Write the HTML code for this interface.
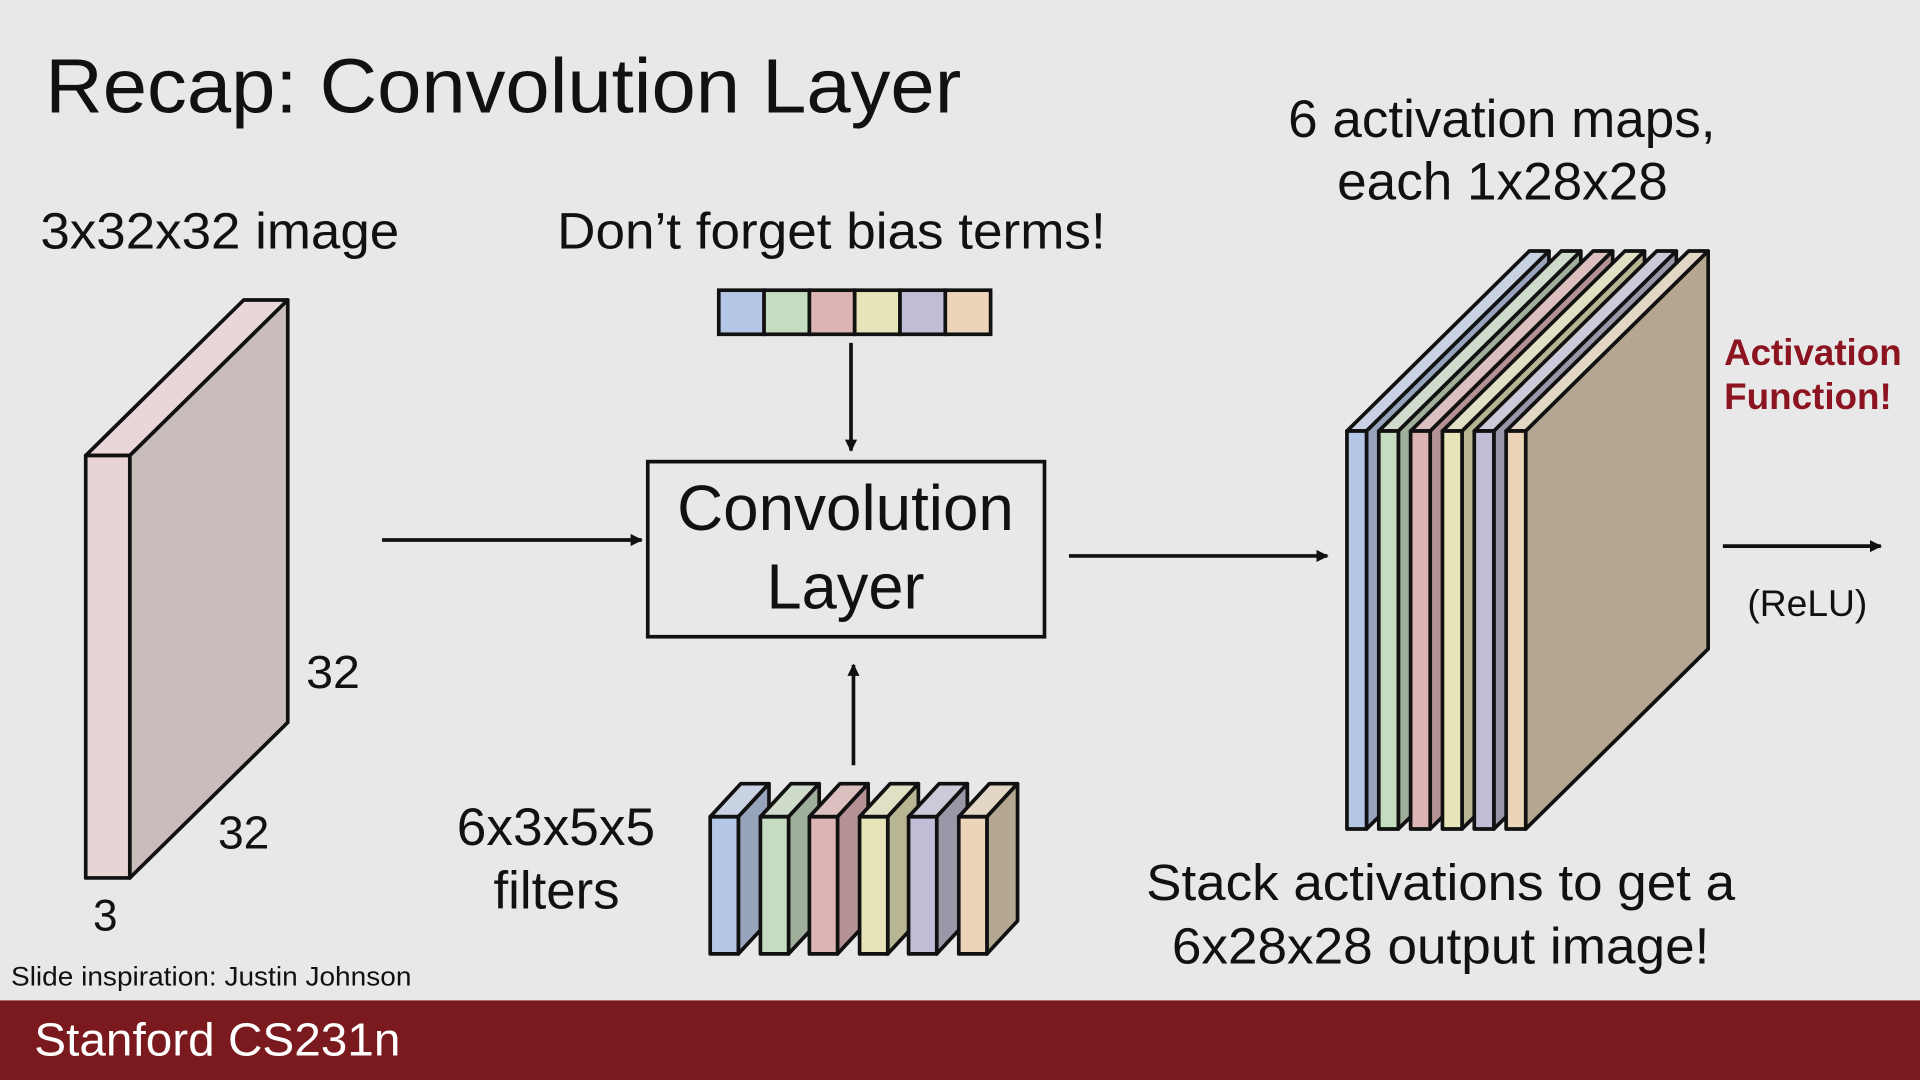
<!DOCTYPE html>
<html><head><meta charset="utf-8"><style>
html,body{margin:0;padding:0;background:#e8e8e8;}
svg{display:block;}
text{font-family:"Liberation Sans",Arial,sans-serif;fill:#111;}
</style></head><body>
<svg width="1920" height="1080" viewBox="0 0 1568 882" xmlns="http://www.w3.org/2000/svg">
<defs>
<marker id="ah" markerWidth="10" markerHeight="10" refX="9" refY="5" orient="auto" markerUnits="userSpaceOnUse">
<path d="M0,0 L10,5 L0,10 z" fill="#111"/></marker>
</defs>
<rect width="1568" height="882" fill="#e8e8e8"/>
<text x="37" y="92" font-size="63" textLength="748" lengthAdjust="spacingAndGlyphs">Recap: Convolution Layer</text>

<g stroke="#111" stroke-width="3" stroke-linejoin="round">
<polygon points="70,372 106,372 235,245 199,245" fill="#e9d6d8"/>
<polygon points="106,372 235,245 235,590 106,717" fill="#c9bdbb"/>
<rect x="70" y="372" width="36" height="345" fill="#e8d3d5"/>
</g>
<text x="33" y="203" font-size="42" textLength="293" lengthAdjust="spacingAndGlyphs">3x32x32 image</text>
<text x="250" y="562" font-size="38" textLength="44" lengthAdjust="spacingAndGlyphs">32</text>
<text x="178" y="693" font-size="38" textLength="42" lengthAdjust="spacingAndGlyphs">32</text>
<text x="76" y="760" font-size="36">3</text>

<line x1="312" y1="441" x2="524" y2="441" stroke="#111" stroke-width="3" marker-end="url(#ah)"/>

<rect x="529" y="377" width="324" height="143" fill="none" stroke="#111" stroke-width="3"/>
<text x="553" y="433" font-size="52" textLength="275" lengthAdjust="spacingAndGlyphs">Convolution</text>
<text x="626" y="497" font-size="52" textLength="129" lengthAdjust="spacingAndGlyphs">Layer</text>

<text x="455" y="203" font-size="42" textLength="448" lengthAdjust="spacingAndGlyphs">Don’t forget bias terms!</text>
<g stroke="#111" stroke-width="3">
<rect x="587" y="237" width="37" height="36" fill="#b4c7e7"/>
<rect x="624" y="237" width="37" height="36" fill="#c5dcc0"/>
<rect x="661" y="237" width="37" height="36" fill="#dcb4b4"/>
<rect x="698" y="237" width="37" height="36" fill="#e6e4b8"/>
<rect x="735" y="237" width="37" height="36" fill="#c0bdd6"/>
<rect x="772" y="237" width="37" height="36" fill="#ecd4b8"/>
</g>
<line x1="695" y1="280" x2="695" y2="368" stroke="#111" stroke-width="3" marker-end="url(#ah)"/>
<line x1="697" y1="625" x2="697" y2="543" stroke="#111" stroke-width="3" marker-end="url(#ah)"/>

<g stroke="#111" stroke-width="3" stroke-linejoin="round">
<g transform="translate(580,0)"><polygon points="0,667 23,667 48,640 25,640" fill="#c8d2e2"/><polygon points="23,667 48,640 48,752 23,779" fill="#98a4bc"/><rect x="0" y="667" width="23" height="112" fill="#b4c7e7"/></g>
<g transform="translate(621,0)"><polygon points="0,667 23,667 48,640 25,640" fill="#cfdccb"/><polygon points="23,667 48,640 48,752 23,779" fill="#a0ae9c"/><rect x="0" y="667" width="23" height="112" fill="#c5dcc0"/></g>
<g transform="translate(661,0)"><polygon points="0,667 23,667 48,640 25,640" fill="#dcc0c0"/><polygon points="23,667 48,640 48,752 23,779" fill="#b49294"/><rect x="0" y="667" width="23" height="112" fill="#dcb4b4"/></g>
<g transform="translate(702,0)"><polygon points="0,667 23,667 48,640 25,640" fill="#e2e0c4"/><polygon points="23,667 48,640 48,752 23,779" fill="#b8b692"/><rect x="0" y="667" width="23" height="112" fill="#e6e4b8"/></g>
<g transform="translate(742,0)"><polygon points="0,667 23,667 48,640 25,640" fill="#cccad8"/><polygon points="23,667 48,640 48,752 23,779" fill="#9a98a8"/><rect x="0" y="667" width="23" height="112" fill="#c0bdd6"/></g>
<g transform="translate(783,0)"><polygon points="0,667 23,667 48,640 25,640" fill="#e2d6c4"/><polygon points="23,667 48,640 48,752 23,779" fill="#b5a892"/><rect x="0" y="667" width="23" height="112" fill="#ecd4b8"/></g>
</g>
<text x="373" y="690" font-size="43" textLength="162" lengthAdjust="spacingAndGlyphs">6x3x5x5</text>
<text x="403" y="742" font-size="43" textLength="103" lengthAdjust="spacingAndGlyphs">filters</text>

<line x1="873" y1="454" x2="1084" y2="454" stroke="#111" stroke-width="3" marker-end="url(#ah)"/>

<g stroke="#111" stroke-width="3" stroke-linejoin="round">
<g transform="translate(1100,0)"><polygon points="0,352 16,352 165,205 149,205" fill="#c8d2e2"/><polygon points="16,352 165,205 165,530 16,677" fill="#98a4bc"/><rect x="0" y="352" width="16" height="325" fill="#b4c7e7"/></g>
<g transform="translate(1126,0)"><polygon points="0,352 16,352 165,205 149,205" fill="#cfdccb"/><polygon points="16,352 165,205 165,530 16,677" fill="#a0ae9c"/><rect x="0" y="352" width="16" height="325" fill="#c5dcc0"/></g>
<g transform="translate(1152,0)"><polygon points="0,352 16,352 165,205 149,205" fill="#dcc0c0"/><polygon points="16,352 165,205 165,530 16,677" fill="#b49294"/><rect x="0" y="352" width="16" height="325" fill="#dcb4b4"/></g>
<g transform="translate(1178,0)"><polygon points="0,352 16,352 165,205 149,205" fill="#e2e0c4"/><polygon points="16,352 165,205 165,530 16,677" fill="#b8b692"/><rect x="0" y="352" width="16" height="325" fill="#e6e4b8"/></g>
<g transform="translate(1204,0)"><polygon points="0,352 16,352 165,205 149,205" fill="#cccad8"/><polygon points="16,352 165,205 165,530 16,677" fill="#9a98a8"/><rect x="0" y="352" width="16" height="325" fill="#c0bdd6"/></g>
<g transform="translate(1230,0)"><polygon points="0,352 16,352 165,205 149,205" fill="#e2d6c4"/><polygon points="16,352 165,205 165,530 16,677" fill="#b4a690"/><rect x="0" y="352" width="16" height="325" fill="#ecd4b8"/></g>
</g>
<text x="1052" y="112" font-size="43" textLength="349" lengthAdjust="spacingAndGlyphs">6 activation maps,</text>
<text x="1092" y="163" font-size="43" textLength="270" lengthAdjust="spacingAndGlyphs">each 1x28x28</text>
<text x="1408" y="298" font-size="30" font-weight="bold" style="fill:#8b1420" textLength="145" lengthAdjust="spacingAndGlyphs">Activation</text>
<text x="1408" y="334" font-size="30" font-weight="bold" style="fill:#8b1420" textLength="137" lengthAdjust="spacingAndGlyphs">Function!</text>
<line x1="1407" y1="446" x2="1536" y2="446" stroke="#111" stroke-width="3" marker-end="url(#ah)"/>
<text x="1427" y="503" font-size="30" textLength="98" lengthAdjust="spacingAndGlyphs">(ReLU)</text>
<text x="936" y="735" font-size="42" textLength="481" lengthAdjust="spacingAndGlyphs">Stack activations to get a</text>
<text x="957" y="787" font-size="42" textLength="439" lengthAdjust="spacingAndGlyphs">6x28x28 output image!</text>

<text x="9" y="805" font-size="22" textLength="327" lengthAdjust="spacingAndGlyphs">Slide inspiration: Justin Johnson</text>
<rect x="0" y="817" width="1568" height="65" fill="#7a1a1e"/>
<text x="28" y="862" font-size="38" style="fill:#fff" textLength="299" lengthAdjust="spacingAndGlyphs">Stanford CS231n</text>
</svg>
</body></html>
